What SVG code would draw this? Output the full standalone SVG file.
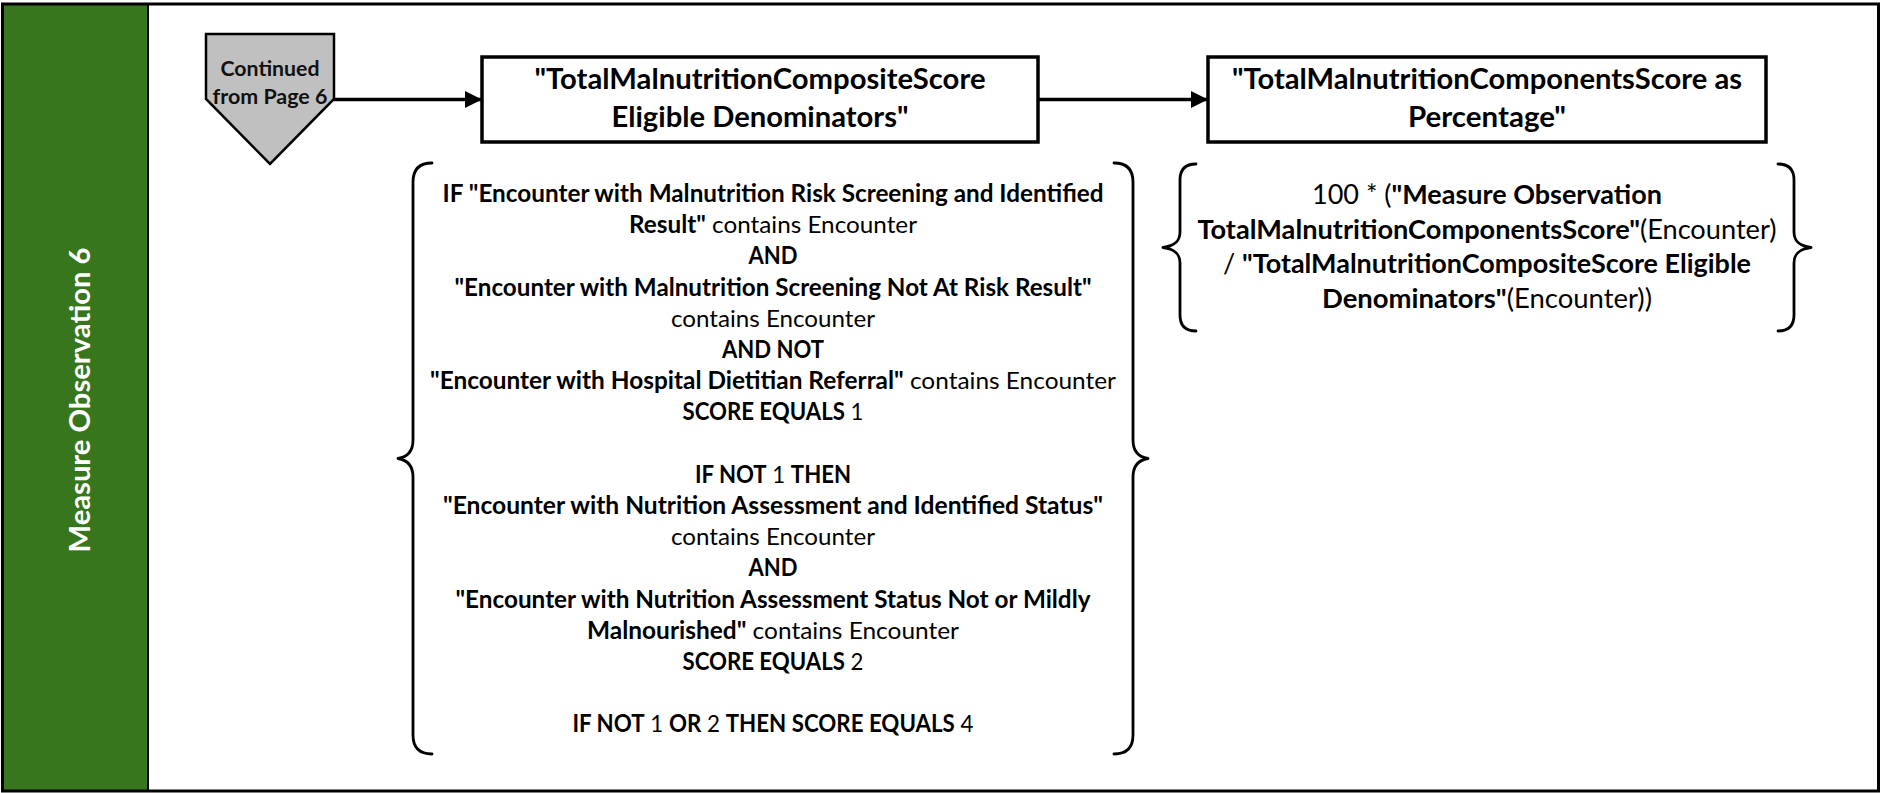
<svg xmlns="http://www.w3.org/2000/svg" width="1881" height="793" viewBox="0 0 1881 793">
  <defs>
    <style>
      text { font-family: Lato, "Liberation Sans", Arial, sans-serif; fill: #000; text-anchor: middle; }
      .b { font-weight: 700; }
      .r { font-weight: 400; }
      .box-title { font-size: 28px; font-weight: 700; }
      .rule { font-size: 24px; }
      .calc { font-size: 26px; }
      .conn-label { font-size: 21px; font-weight: 700; fill: #111; }
      .lane-label { font-size: 28px; font-weight: 700; fill: #fff; }
      .box { fill: #fff; stroke: #000; stroke-width: 3.5; }
      .brace { fill: none; stroke: #000; stroke-width: 2.8; stroke-linecap: round; stroke-linejoin: round; }
      .flow { stroke: #000; stroke-width: 3.5; fill: none; }
    </style>
    <marker id="arrowhead" markerUnits="userSpaceOnUse" markerWidth="18" markerHeight="18" refX="17" refY="8.5" orient="auto">
      <path d="M0,0 L17,8.5 L0,17 Z" fill="#000"/>
    </marker>
  </defs>

  <!-- page frame and swimlane header -->
  <rect x="0" y="0" width="1881" height="793" fill="#fff"/>
  <g id="lane">
    <rect x="2.5" y="4" width="145.5" height="787" fill="#38761d"/>
    <text class="lane-label" transform="translate(90,400) rotate(-90)" textLength="305" lengthAdjust="spacingAndGlyphs">Measure Observation 6</text>
  </g>
  <rect x="2.5" y="4" width="1876" height="787" fill="none" stroke="#000" stroke-width="3"/>
  <line x1="148" y1="4" x2="148" y2="791" stroke="#000" stroke-width="2"/>

  <!-- off-page connector -->
  <g id="continued-from-page-6">
    <polygon points="206,34 334,34 334,99 270,164 206,99" fill="#c0c0c0" stroke="#000" stroke-width="2.5" stroke-linejoin="miter"/>
    <text class="conn-label" x="270" y="76" textLength="99" lengthAdjust="spacingAndGlyphs">Continued</text>
    <text class="conn-label" x="270" y="104" textLength="115" lengthAdjust="spacingAndGlyphs">from Page 6</text>
  </g>

  <!-- process boxes -->
  <g id="eligible-denominators">
    <rect class="box" x="482" y="57" width="556" height="85"/>
    <text class="box-title" x="760" y="89" textLength="451" lengthAdjust="spacingAndGlyphs">"TotalMalnutritionCompositeScore</text>
    <text class="box-title" x="760" y="126.5" textLength="297" lengthAdjust="spacingAndGlyphs">Eligible Denominators"</text>
  </g>

  <g id="score-as-percentage">
    <rect class="box" x="1208" y="57" width="558" height="85"/>
    <text class="box-title" x="1487" y="89" textLength="510" lengthAdjust="spacingAndGlyphs">"TotalMalnutritionComponentsScore as</text>
    <text class="box-title" x="1487" y="126.5" textLength="158" lengthAdjust="spacingAndGlyphs">Percentage"</text>
  </g>

  <!-- scoring rules under the denominator box -->
  <g id="denominator-rules">
    <path class="brace" d="M432,163 C419,163 413,170 413,182 L413,440 C413,452 407,457 398,458.5 C407,460 413,465 413,477 L413,735 C413,747 419,754 432,754"/>
    <path class="brace" d="M1114,163 C1127,163 1133,170 1133,182 L1133,440 C1133,452 1139,457 1148,458.5 C1139,460 1133,465 1133,477 L1133,735 C1133,747 1127,754 1114,754"/>
    <text class="rule" x="773" y="202" textLength="661" lengthAdjust="spacingAndGlyphs"><tspan class="b">IF "Encounter with Malnutrition Risk Screening and Identified</tspan></text>
    <text class="rule" x="773" y="233.2" textLength="288" lengthAdjust="spacingAndGlyphs"><tspan class="b">Result"</tspan><tspan class="r"> contains Encounter</tspan></text>
    <text class="rule" x="773" y="264.4" textLength="49" lengthAdjust="spacingAndGlyphs"><tspan class="b">AND</tspan></text>
    <text class="rule" x="773" y="295.6" textLength="637" lengthAdjust="spacingAndGlyphs"><tspan class="b">"Encounter with Malnutrition Screening Not At Risk Result"</tspan></text>
    <text class="rule" x="773" y="326.8" textLength="204" lengthAdjust="spacingAndGlyphs"><tspan class="r">contains Encounter</tspan></text>
    <text class="rule" x="773" y="358" textLength="102" lengthAdjust="spacingAndGlyphs"><tspan class="b">AND NOT</tspan></text>
    <text class="rule" x="773" y="389.2" textLength="686" lengthAdjust="spacingAndGlyphs"><tspan class="b">"Encounter with Hospital Dietitian Referral"</tspan><tspan class="r"> contains Encounter</tspan></text>
    <text class="rule" x="773" y="420.4" textLength="181" lengthAdjust="spacingAndGlyphs"><tspan class="b">SCORE EQUALS</tspan><tspan class="r"> 1</tspan></text>
    <text class="rule" x="773" y="482.8" textLength="156" lengthAdjust="spacingAndGlyphs"><tspan class="b">IF NOT</tspan><tspan class="r"> 1 </tspan><tspan class="b">THEN</tspan></text>
    <text class="rule" x="773" y="514" textLength="660" lengthAdjust="spacingAndGlyphs"><tspan class="b">"Encounter with Nutrition Assessment and Identified Status"</tspan></text>
    <text class="rule" x="773" y="545.2" textLength="204" lengthAdjust="spacingAndGlyphs"><tspan class="r">contains Encounter</tspan></text>
    <text class="rule" x="773" y="576.4" textLength="49" lengthAdjust="spacingAndGlyphs"><tspan class="b">AND</tspan></text>
    <text class="rule" x="773" y="607.6" textLength="635" lengthAdjust="spacingAndGlyphs"><tspan class="b">"Encounter with Nutrition Assessment Status Not or Mildly</tspan></text>
    <text class="rule" x="773" y="638.8" textLength="372" lengthAdjust="spacingAndGlyphs"><tspan class="b">Malnourished"</tspan><tspan class="r"> contains Encounter</tspan></text>
    <text class="rule" x="773" y="670" textLength="181" lengthAdjust="spacingAndGlyphs"><tspan class="b">SCORE EQUALS</tspan><tspan class="r"> 2</tspan></text>
    <text class="rule" x="773" y="732.4" textLength="401" lengthAdjust="spacingAndGlyphs"><tspan class="b">IF NOT</tspan><tspan class="r"> 1 </tspan><tspan class="b">OR</tspan><tspan class="r"> 2 </tspan><tspan class="b">THEN SCORE EQUALS</tspan><tspan class="r"> 4</tspan></text>
  </g>

  <!-- percentage formula under the second box -->
  <g id="percentage-formula">
    <path class="brace" d="M1196,164 C1185,164 1180,170 1180,180 L1180,232 C1180,242 1174,246 1163,247.5 C1174,249 1180,253 1180,263 L1180,315 C1180,325 1185,331 1196,331"/>
    <path class="brace" d="M1778,164 C1789,164 1794,170 1794,180 L1794,232 C1794,242 1800,246 1811,247.5 C1800,249 1794,253 1794,263 L1794,315 C1794,325 1789,331 1778,331"/>
    <text class="calc" x="1487" y="204" textLength="350" lengthAdjust="spacingAndGlyphs"><tspan class="r">100 * (</tspan><tspan class="b">"Measure Observation</tspan></text>
    <text class="calc" x="1487" y="238.5" textLength="579" lengthAdjust="spacingAndGlyphs"><tspan class="b">TotalMalnutritionComponentsScore"</tspan><tspan class="r">(Encounter)</tspan></text>
    <text class="calc" x="1487" y="273" textLength="528" lengthAdjust="spacingAndGlyphs"><tspan class="r">/ </tspan><tspan class="b">"TotalMalnutritionCompositeScore Eligible</tspan></text>
    <text class="calc" x="1487" y="307.5" textLength="330" lengthAdjust="spacingAndGlyphs"><tspan class="b">Denominators"</tspan><tspan class="r">(Encounter))</tspan></text>
  </g>

  <!-- connectors -->
  <g id="connectors">
    <line class="flow" x1="334" y1="99.5" x2="482" y2="99.5" marker-end="url(#arrowhead)"/>
    <line class="flow" x1="1038" y1="99.5" x2="1208" y2="99.5" marker-end="url(#arrowhead)"/>
  </g>
</svg>
